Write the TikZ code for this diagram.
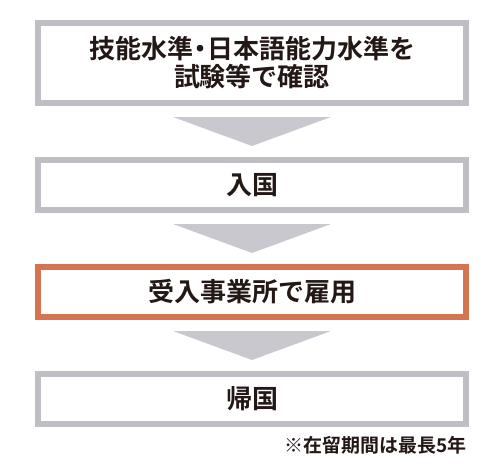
\documentclass[tikz,border=0pt]{standalone}
\usepackage{fontspec}
\newfontfamily\jpfont{Noto Sans CJK JP}[BoldFont={* Bold}]
\usepackage{tikz}
\usetikzlibrary{calc,positioning}

\definecolor{framegray}{RGB}{192,190,196}
\definecolor{arrowgray}{RGB}{200,200,206}
\definecolor{steporange}{RGB}{214,116,82}
\definecolor{inkblack}{RGB}{35,24,21}

\tikzset{
  stepbox/.style={draw=framegray, line width=6pt, fill=white, minimum width=428pt,
    minimum height=50pt, inner sep=0pt, align=center, text=inkblack,
    font=\jpfont\bfseries\fontsize{26}{28}\selectfont},
  downarrow/.style={fill=arrowgray}
}

\begin{document}
\begin{tikzpicture}[x=1pt, y=-1pt]
\useasboundingbox (0,0) rectangle (504,474);
\node[stepbox, minimum height=80pt] (test) at (252,63) {技能水準\kern-6pt・\kern-6pt日本語能力水準を\\試験等で確認};
\node[stepbox] (entry) at (252,185) {入国};
\node[stepbox, draw=steporange] (work) at (252,292) {受入事業所で雇用};
\node[stepbox] (home) at (252,399) {帰国};
\node[anchor=east, inner sep=0pt, text=inkblack, font=\jpfont\bfseries\fontsize{19}{20}\selectfont] (note) at (467,445) {※在留期間は最長5年};
\fill[downarrow] ($(test.south)+(-79pt,-11pt)$) -- ($(test.south)+(79pt,-11pt)$) -- ($(entry.north)+(0pt,11pt)$) -- cycle;
\fill[downarrow] ($(entry.south)+(-79pt,-11pt)$) -- ($(entry.south)+(79pt,-11pt)$) -- ($(work.north)+(0pt,11pt)$) -- cycle;
\fill[downarrow] ($(work.south)+(-79pt,-11pt)$) -- ($(work.south)+(79pt,-11pt)$) -- ($(home.north)+(0pt,11pt)$) -- cycle;
\end{tikzpicture}
\end{document}
